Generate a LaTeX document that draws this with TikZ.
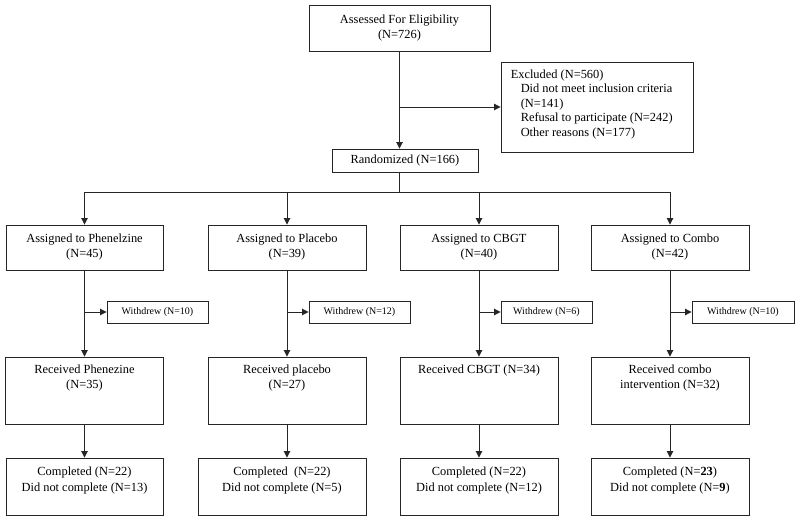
\documentclass[tikz,border=0pt]{standalone}
\usepackage{fontspec}
\setmainfont{Liberation Serif}
\usetikzlibrary{arrows.meta}
\begin{document}
\begin{tikzpicture}[x=1pt,y=-1pt,
  every node/.style={font=\fontsize{12.4}{15}\selectfont},
  bx/.style={draw=black!85,line width=0.9pt,inner sep=0pt,align=center},
  wbox/.style={bx,font=\fontsize{10}{12}\selectfont,minimum height=22pt},
  lbl/.style={inner sep=0pt,align=center,anchor=north},
  con/.style={draw=black!85,line width=0.9pt},
  arr/.style={con,-{Triangle[length=6.5pt,width=6.5pt]}}]
\useasboundingbox (0,0) rectangle (800,521);
% top part
\node[bx,minimum width=181pt,minimum height=46pt] (top) at (399.5,28) {Assessed For Eligibility\\(N=726)};
\node[bx,minimum width=192pt,minimum height=90pt] (excl) at (597,107) {};
\node[inner sep=0pt,anchor=north west,align=left,font=\fontsize{12.4}{14.5}\selectfont] (exclt) at ([xshift=10pt,yshift=-8pt]excl.north west)
 {Excluded (N=560)\\\hspace*{10pt}Did not meet inclusion criteria\\\hspace*{10pt}(N=141)\\\hspace*{10pt}Refusal to participate (N=242)\\\hspace*{10pt}Other reasons (N=177)};
\node[bx,minimum width=146pt,minimum height=23pt] (rand) at (405,160.5) {Randomized (N=166)};
\coordinate (split) at (399.5,192);
% assigned
\foreach \n/\x/\w/\t in {a1/84.5/157/{Assigned to Phenelzine\\(N=45)},a2/287/158/{Assigned to Placebo\\(N=39)},a3/479/158/{Assigned to CBGT\\(N=40)},a4/670/158/{Assigned to Combo\\(N=42)}}
  \node[bx,minimum width=\w pt,minimum height=45pt] (\n) at (\x,247.5) {\t};
% withdrew
\node[wbox,minimum width=101pt] (w1) at (157.5,312) {Withdrew (N=10)};
\node[wbox,minimum width=101pt] (w2) at (359.5,312) {Withdrew (N=12)};
\node[wbox,minimum width=91pt] (w3) at (546.5,312) {Withdrew (N=6)};
\node[wbox,minimum width=102pt] (w4) at (743,312) {Withdrew (N=10)};
% received
\foreach \n/\x in {r1/84.5,r2/287,r3/479,r4/670}
  \node[bx,minimum width=158pt,minimum height=67pt] (\n) at (\x,390.5) {};
\node[lbl] (r1t) at ([yshift=-8pt]r1.north) {Received Phenezine\\(N=35)};
\node[lbl] (r2t) at ([yshift=-8pt]r2.north) {Received placebo\\(N=27)};
\node[lbl] (r3t) at ([yshift=-8pt]r3.north) {Received CBGT (N=34)};
\node[lbl] (r4t) at ([yshift=-8pt]r4.north) {Received combo\\intervention (N=32)};
% completed
\node[bx,minimum width=157pt,minimum height=57pt] (c1) at (84.5,486.5) {};
\node[bx,minimum width=168pt,minimum height=57pt] (c2) at (282,486.5) {};
\node[bx,minimum width=158pt,minimum height=57pt] (c3) at (479,486.5) {};
\node[bx,minimum width=158pt,minimum height=57pt] (c4) at (670,486.5) {};
\node[lbl,font=\fontsize{12.4}{16}\selectfont] (c1t) at ([yshift=-9pt]c1.north) {Completed (N=22)\\Did not complete (N=13)};
\node[lbl,font=\fontsize{12.4}{16}\selectfont] (c2t) at ([yshift=-9pt]c2.north) {Completed\ \ (N=22)\\Did not complete (N=5)};
\node[lbl,font=\fontsize{12.4}{16}\selectfont] (c3t) at ([yshift=-9pt]c3.north) {Completed (N=22)\\Did not complete (N=12)};
\node[lbl,font=\fontsize{12.4}{16}\selectfont] (c4t) at ([yshift=-9pt]c4.north) {Completed (N=\textbf{23})\\Did not complete (N=\textbf{9})};
% connectors
\draw[arr] (top.south) -- (top.south |- rand.north);
\draw[arr] (top.south |- excl.west) -- (excl.west);
\draw[con] (top.south |- rand.south) -- (split);
\draw[con] (a1.north |- split) -- (a4.north |- split);
\foreach \i in {1,2,3,4}{
  \draw[arr] (a\i.north |- split) -- (a\i.north);
  \draw[arr] (a\i.south) -- (a\i.south |- r\i.north);
  \draw[arr] (a\i.south |- w\i.west) -- (w\i.west);
  \draw[arr] (r\i.south) -- (r\i.south |- c\i.north);
}
\end{tikzpicture}
\end{document}
